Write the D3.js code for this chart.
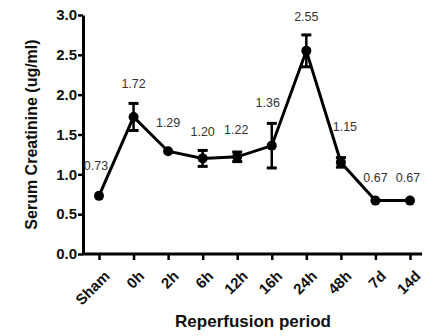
<!DOCTYPE html>
<html>
<head>
<meta charset="utf-8">
<script src="https://cdn.jsdelivr.net/npm/d3@7"></script>
<style>
  body { margin: 0; background: #fff; }
  text { font-family: "Liberation Sans", Arial, sans-serif; }
</style>
</head>
<body>
<script>
const categories = ["Sham", "0h", "2h", "6h", "12h", "16h", "24h", "48h", "7d", "14d"];
const means = [0.73, 1.72, 1.29, 1.20, 1.22, 1.36, 2.55, 1.15, 0.67, 0.67];
const errors = [0.02, 0.17, 0.02, 0.10, 0.06, 0.28, 0.20, 0.06, 0.01, 0.01];
const labels = ["0.73", "1.72", "1.29", "1.20", "1.22", "1.36", "2.55", "1.15", "0.67", "0.67"];
const yTicks = [0, 0.5, 1.0, 1.5, 2.0, 2.5, 3.0];

const width = 433, height = 336;
const margin = { left: 83, right: 11, top: 15, bottom: 82 };

const svg = d3.select("body").append("svg")
  .attr("width", width)
  .attr("height", height);

const x = d3.scalePoint()
  .domain(categories)
  .range([99, 410]);

const y = d3.scaleLinear()
  .domain([0, 3])
  .range([height - margin.bottom, margin.top]);

// y axis
const yAxis = svg.append("g")
  .attr("transform", `translate(${margin.left},0)`)
  .call(d3.axisLeft(y).tickValues(yTicks).tickFormat(d3.format(".1f")).tickSize(5).tickSizeOuter(0));
yAxis.select(".domain").attr("stroke", "#000").attr("stroke-width", 3);
yAxis.selectAll(".tick line").attr("stroke", "#000").attr("stroke-width", 2.5);
yAxis.selectAll(".tick text")
  .attr("font-size", 15).attr("font-weight", "bold").attr("fill", "#111")
  .attr("x", -6);

// x axis
const xAxis = svg.append("g")
  .attr("transform", `translate(0,${y(0)})`)
  .call(d3.axisBottom(x).tickSize(6).tickSizeOuter(0));
xAxis.select(".domain").attr("d", `M${margin.left},0H${width - margin.right}`)
  .attr("stroke", "#000").attr("stroke-width", 3);
xAxis.selectAll(".tick line").attr("stroke", "#000").attr("stroke-width", 2.5);
xAxis.selectAll(".tick text")
  .attr("font-size", 15).attr("font-weight", "bold").attr("fill", "#111")
  .attr("text-anchor", "end")
  .attr("dy", "0.35em")
  .attr("transform", "translate(1,13) rotate(-45)");

// line
const line = d3.line()
  .x((d, i) => x(categories[i]))
  .y(d => y(d));

svg.append("path")
  .datum(means)
  .attr("fill", "none")
  .attr("stroke", "#000")
  .attr("stroke-width", 3)
  .attr("d", line);

// error bars
const eb = svg.append("g").selectAll("g")
  .data(means.map((m, i) => ({ c: categories[i], m: m, e: errors[i] })))
  .join("g");

eb.append("line")
  .attr("x1", d => x(d.c)).attr("x2", d => x(d.c))
  .attr("y1", d => y(d.m + d.e)).attr("y2", d => y(d.m - d.e))
  .attr("stroke", "#000").attr("stroke-width", 2.5);

eb.filter(d => d.e > 0.03).append("line")
  .attr("x1", d => x(d.c) - 5).attr("x2", d => x(d.c) + 5)
  .attr("y1", d => y(d.m + d.e)).attr("y2", d => y(d.m + d.e))
  .attr("stroke", "#000").attr("stroke-width", 3);

eb.filter(d => d.e > 0.03).append("line")
  .attr("x1", d => x(d.c) - 5).attr("x2", d => x(d.c) + 5)
  .attr("y1", d => y(d.m - d.e)).attr("y2", d => y(d.m - d.e))
  .attr("stroke", "#000").attr("stroke-width", 3);

eb.append("circle")
  .attr("cx", d => x(d.c)).attr("cy", d => y(d.m))
  .attr("r", 5).attr("fill", "#000");

// value labels
const labelOffsets = [[-3, -26], [0, -29], [0, -24], [0, -22], [-1, -23], [-4, -39], [0, -30], [4, -31], [0, -19], [-2, -19]];
svg.append("g").selectAll("text")
  .data(labels)
  .join("text")
  .attr("x", (d, i) => x(categories[i]) + labelOffsets[i][0])
  .attr("y", (d, i) => y(means[i]) + labelOffsets[i][1])
  .attr("text-anchor", "middle")
  .attr("font-size", 12.5)
  .attr("fill", "#333")
  .text(d => d);

// axis titles
svg.append("text")
  .attr("transform", `translate(37,${(y(0) + y(3)) / 2}) rotate(-90)`)
  .attr("text-anchor", "middle")
  .attr("font-size", 16).attr("font-weight", "bold").attr("fill", "#111")
  .text("Serum Creatinine (ug/ml)");

svg.append("text")
  .attr("x", 253).attr("y", 327)
  .attr("text-anchor", "middle")
  .attr("font-size", 17).attr("font-weight", "bold").attr("fill", "#111")
  .text("Reperfusion period");
</script>
</body>
</html>
